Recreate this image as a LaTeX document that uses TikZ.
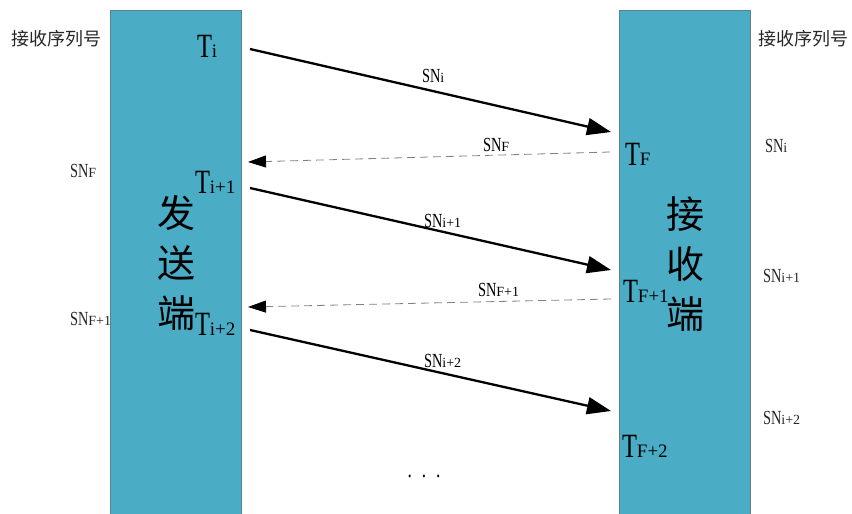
\documentclass[tikz,border=0pt]{standalone}
\usepackage{fontspec}
\setmainfont{Liberation Serif}[FakeStretch=0.72]
\newfontfamily\subfont{Liberation Serif}
\newfontfamily\cjk{Noto Sans CJK SC}
\usetikzlibrary{arrows.meta, positioning}
\definecolor{boxblue}{HTML}{4BACC6}
\definecolor{boxedge}{HTML}{5E7F8C}
\newcommand{\tmark}[1]{T{\subfont\fontsize{19}{19}\selectfont #1}}
\newcommand{\snmark}[1]{SN{\subfont\fontsize{14}{14}\selectfont #1}}

\begin{document}
\begin{tikzpicture}[x=1pt, y=-1pt, every node/.style={inner sep=0pt, outer sep=0pt},
    station/.style={rectangle, draw=boxedge, fill=boxblue, minimum width=131pt, minimum height=506pt},
    msg/.style={line width=2.3pt, -{Triangle[length=24pt, width=17pt]}},
    ack/.style={line width=0.8pt, gray, dash pattern=on 8pt off 5pt, -{Triangle[length=18pt, width=12pt, color=black]}},
    tlbl/.style={anchor=base west, font=\fontsize{34}{34}\selectfont},
    snlbl/.style={anchor=base west, font=\fontsize{20}{20}\selectfont},
    head/.style={font=\cjk\fontsize{18}{18}\selectfont, text=black!85},
    big/.style={align=center, font=\cjk\fontsize{38}{50}\selectfont}]
    \useasboundingbox (0,0) rectangle (852,514);
    % the two stations
    \node (send) [station] at (175.75,263.5) {};
    \node (recv) [station] at (684.75,263.5) {};
    \node (sendtxt) [big] at (176,263) {发\\送\\端};
    \node (recvtxt) [big] at (685,264) {接\\收\\端};
    \node (headL) [head] at (57,39) {接收序列号};
    \node (headR) [head] at (803,39) {接收序列号};
    % time marks
    \node (Ti) [tlbl] at (197,57) {\tmark{i}};
    \node (Ti1) [tlbl] at (195,193) {\tmark{i+1}};
    \node (Ti2) [tlbl] at (195,335) {\tmark{i+2}};
    \node (TF) [tlbl] at (625,165) {\tmark{F}};
    \node (TF1) [tlbl] at (623,302) {\tmark{F+1}};
    \node (TF2) [tlbl] at (622,457) {\tmark{F+2}};
    % end points of the messages
    \coordinate (s1) at (250,49);  \coordinate (r1) at (611,132);
    \coordinate (r2) at (610,152); \coordinate (s2) at (248,162);
    \coordinate (s3) at (250,188); \coordinate (r3) at (611,270);
    \coordinate (r4) at (611,299); \coordinate (s4) at (248,307);
    \coordinate (s5) at (250,330); \coordinate (r5) at (611,411);
    \draw[msg] (s1) -- (r1);
    \draw[ack] (r2) -- (s2);
    \draw[msg] (s3) -- (r3);
    \draw[ack] (r4) -- (s4);
    \draw[msg] (s5) -- (r5);
    % sequence numbers on the messages
    \node (m1) [snlbl] at (422,82) {\snmark{i}};
    \node (m2) [snlbl] at (483,151) {\snmark{F}};
    \node (m3) [snlbl] at (424,227) {\snmark{i+1}};
    \node (m4) [snlbl] at (478,296) {\snmark{F+1}};
    \node (m5) [snlbl] at (424,367) {\snmark{i+2}};
    % received sequence numbers
    \node (snL1) [snlbl, text=black!85] at (70,177) {\snmark{F}};
    \node (snL2) [snlbl, text=black!85] at (70,325) {\snmark{F+1}};
    \node (snR1) [snlbl, text=black!85] at (765,152) {\snmark{i}};
    \node (snR2) [snlbl, text=black!85] at (763,282) {\snmark{i+1}};
    \node (snR3) [snlbl, text=black!85] at (763,424) {\snmark{i+2}};
    \node (more) [anchor=base, font=\fontsize{24}{24}\selectfont] at (424,477) {.\hspace{10pt}.\hspace{10pt}.};
\end{tikzpicture}
\end{document}
